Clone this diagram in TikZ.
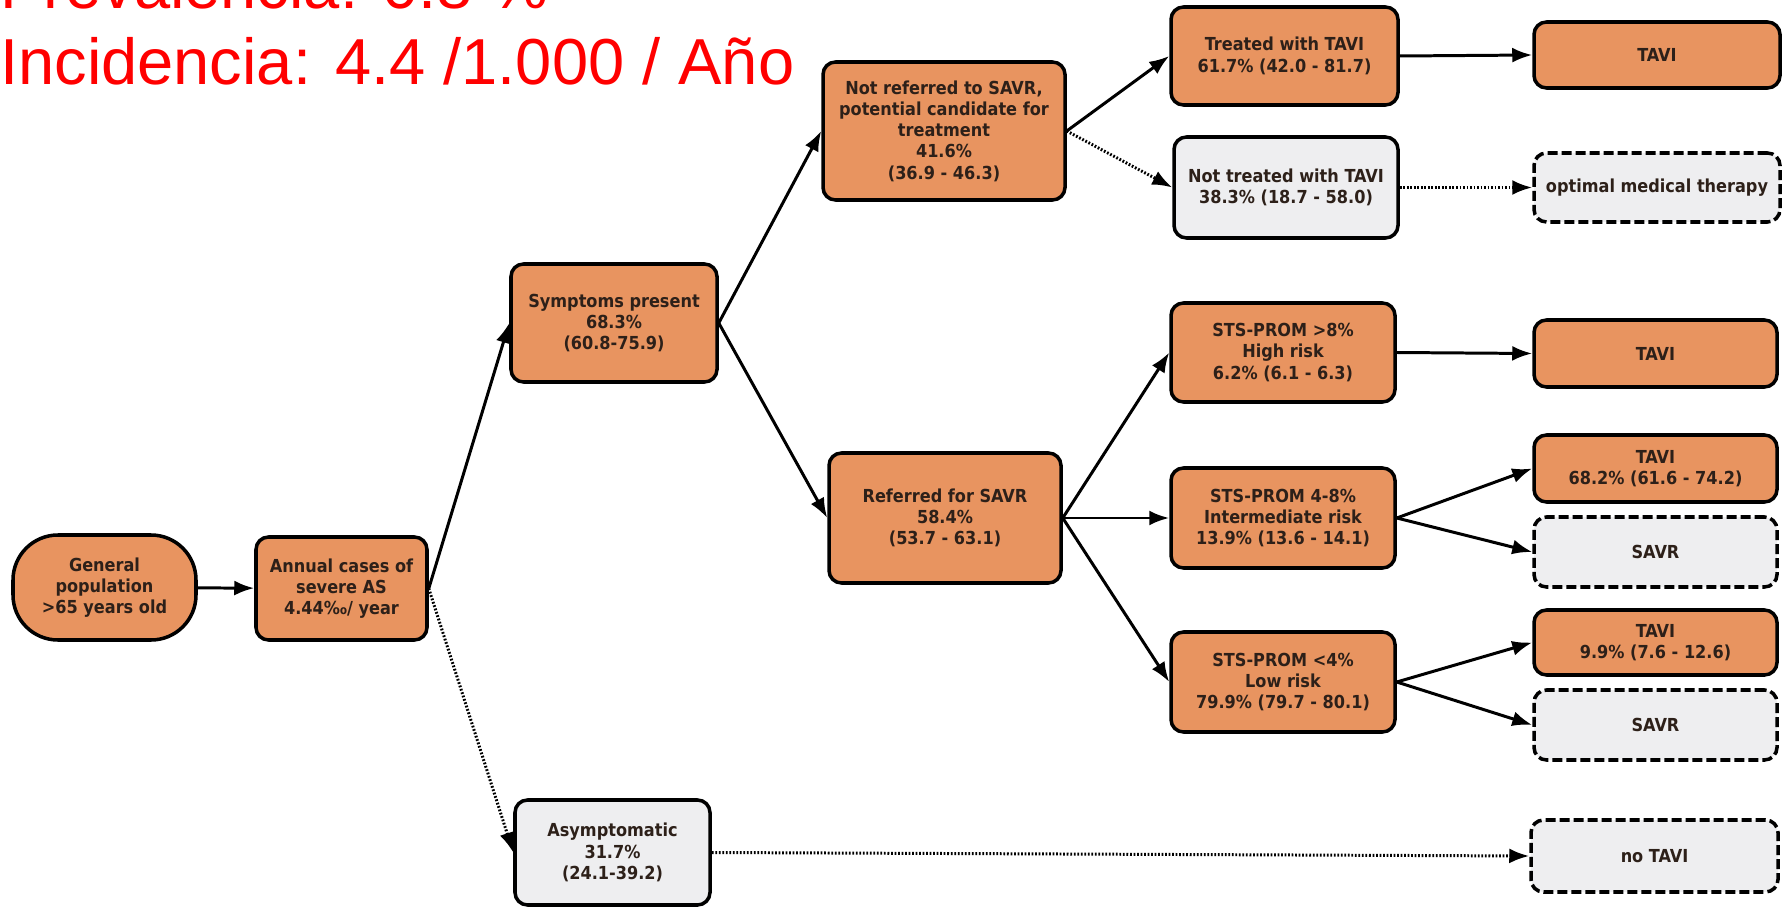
\documentclass[tikz,border=0pt]{standalone}
\usepackage{fontspec}
\setmainfont{DejaVu Sans Condensed}
\newfontfamily\titlefont{Liberation Sans}
\usetikzlibrary{arrows.meta}
\definecolor{boxorange}{RGB}{232,148,96}
\definecolor{boxgray}{RGB}{238,238,240}
\definecolor{boxtext}{RGB}{45,32,25}
\definecolor{titlered}{RGB}{255,0,0}
\tikzset{
  box/.style={draw=black, line width=2pt, rounded corners=0.25cm, align=center, text=boxtext,
    font=\bfseries\fontsize{10.2}{12.1}\selectfont, inner sep=2pt},
  orangebox/.style={box, fill=boxorange},
  graybox/.style={box, fill=boxgray},
  dashbox/.style={graybox, dash pattern=on 0.2cm off 0.08cm},
  link/.style={line width=1.7pt, -{Latex[length=0.4cm,width=0.3cm]}},
  dotlink/.style={link, dash pattern=on 1pt off 1pt},
  redtitle/.style={anchor=base west, inner sep=0pt, text=titlered, font=\titlefont\fontsize{37}{44}\selectfont},
}
\begin{document}
\begin{tikzpicture}
    \clip (0,0) rectangle (35.7,-18.22);
    % titles
    \node[redtitle] (preval) at (0,-0.18) {Prevalencia: 0.8 \%};
    \node[redtitle] (incid) at (0,-1.70) {Incidencia: 4.4 /1.000 / Año};
    % first columns
    \node[orangebox, rounded corners=0.9cm, minimum width=3.66cm, minimum height=2.1cm] (gen) at (2.09,-11.75) {General\\population\\>65 years old};
    \node[orangebox, minimum width=3.42cm, minimum height=2.06cm] (annual) at (6.83,-11.77) {Annual cases of\\severe AS\\4.44‰/ year};
    \node[orangebox, minimum width=4.12cm, minimum height=2.36cm] (symptoms) at (12.28,-6.46) {Symptoms present\\68.3\%\\(60.8-75.9)};
    \node[graybox, minimum width=3.9cm, minimum height=2.1cm] (asym) at (12.25,-17.05) {Asymptomatic\\31.7\%\\(24.1-39.2)};
    \node[orangebox, minimum width=4.84cm, minimum height=2.76cm] (notref) at (18.88,-2.62) {Not referred to SAVR,\\potential candidate for\\treatment\\41.6\%\\(36.9 - 46.3)};
    \node[orangebox, minimum width=4.64cm, minimum height=2.6cm] (referred) at (18.9,-10.36) {Referred for SAVR\\58.4\%\\(53.7 - 63.1)};
    % risk column
    \node[orangebox, minimum width=4.54cm, minimum height=1.96cm] (treated) at (25.69,-1.12) {Treated with TAVI\\61.7\% (42.0 - 81.7)};
    \node[graybox, minimum width=4.48cm, minimum height=2.02cm] (nottreated) at (25.72,-3.75) {Not treated with TAVI\\38.3\% (18.7 - 58.0)};
    \node[orangebox, minimum width=4.48cm, minimum height=1.98cm] (high) at (25.66,-7.05) {STS-PROM >8\%\\High risk\\6.2\% (6.1 - 6.3)};
    \node[orangebox, minimum width=4.48cm, minimum height=2cm] (inter) at (25.66,-10.36) {STS-PROM 4-8\%\\Intermediate risk\\13.9\% (13.6 - 14.1)};
    \node[orangebox, minimum width=4.48cm, minimum height=2cm] (low) at (25.66,-13.64) {STS-PROM <4\%\\Low risk\\79.9\% (79.7 - 80.1)};
    % outcomes
    \node[orangebox, minimum width=4.92cm, minimum height=1.32cm] (tavia) at (33.14,-1.1) {TAVI};
    \node[dashbox, minimum width=4.92cm, minimum height=1.38cm] (omt) at (33.14,-3.75) {optimal medical therapy};
    \node[orangebox, minimum width=4.86cm, minimum height=1.34cm] (tavib) at (33.11,-7.07) {TAVI};
    \node[orangebox, minimum width=4.86cm, minimum height=1.34cm] (tavic) at (33.11,-9.37) {TAVI\\68.2\% (61.6 - 74.2)};
    \node[dashbox, minimum width=4.86cm, minimum height=1.4cm] (savra) at (33.11,-11.04) {SAVR};
    \node[orangebox, minimum width=4.86cm, minimum height=1.3cm] (tavid) at (33.11,-12.85) {TAVI\\9.9\% (7.6 - 12.6)};
    \node[dashbox, minimum width=4.86cm, minimum height=1.4cm] (savrb) at (33.11,-14.5) {SAVR};
    \node[dashbox, minimum width=4.94cm, minimum height=1.44cm] (notavi) at (33.09,-17.12) {no TAVI};
    % connectors
    \draw[link] (gen) -- (annual);
    \draw[link] (annual.east) -- (symptoms.west);
    \draw[dotlink] (annual.east) -- (asym.west);
    \draw[link] (symptoms.east) -- (notref.west);
    \draw[link] (symptoms.east) -- (referred.west);
    \draw[link] (notref.east) -- (treated.west);
    \draw[dotlink] (notref.east) -- (nottreated.west);
    \draw[link] (treated.east) -- (tavia.west);
    \draw[dotlink] (nottreated.east) -- (omt.west);
    \draw[link] (referred.east) -- (high.west);
    \draw[link] (referred.east) -- (inter.west);
    \draw[link] (referred.east) -- (low.west);
    \draw[link] (high.east) -- (tavib.west);
    \draw[link] (inter.east) -- (tavic.west);
    \draw[link] (inter.east) -- (savra.west);
    \draw[link] (low.east) -- (tavid.west);
    \draw[link] (low.east) -- (savrb.west);
    \draw[dotlink] (asym.east) -- (notavi.west);
\end{tikzpicture}
\end{document}
